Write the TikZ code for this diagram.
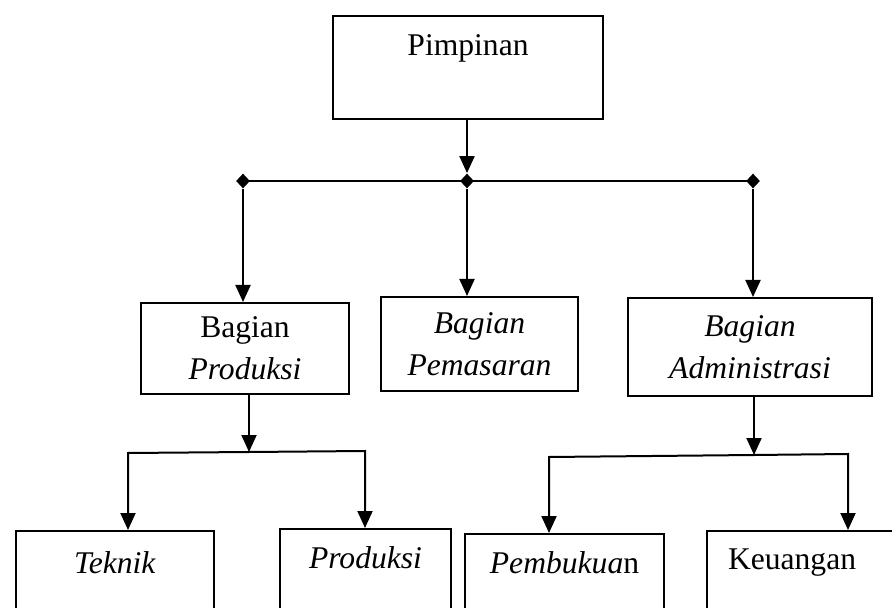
\documentclass[tikz,border=0pt]{standalone}
\usepackage{fontspec}
\setmainfont{Liberation Serif}
\usetikzlibrary{shapes.geometric, arrows.meta, positioning}
\tikzstyle{arrow} = [line width=1pt, -{Triangle[length=8.5pt, width=7.5pt]}]
\tikzstyle{unit} = [draw, rectangle, line width=1pt, inner sep=0pt, anchor=north west, align=center]
\tikzstyle{joint} = [diamond, fill=black, inner sep=0pt, minimum width=7pt, minimum height=7.5pt]

\begin{document}
\begin{tikzpicture}[x=0.5pt, y=-0.5pt, every node/.style={font=\fontsize{15.8}{21}\selectfont}]
\useasboundingbox (0,0) rectangle (892,608);
\clip (0,0) rectangle (892,608);

% Units
\node (pim) [unit, minimum width=135pt, minimum height=51.5pt, text height=20pt, text depth=31.5pt] at (332,15) {Pimpinan};

\node (prod) [unit, minimum width=104pt, minimum height=45.5pt] at (140,302) {Bagian\\\textit{Produksi}};
\node (pem) [unit, minimum width=98.5pt, minimum height=47pt] at (380,296) {\textit{Bagian}\\\textit{Pemasaran}};
\node (adm) [unit, minimum width=122pt, minimum height=49pt] at (627,297) {\textit{Bagian}\\\textit{Administrasi}};

\node (tek) [unit, minimum width=99pt, text height=21pt, text depth=24pt] at (15,530) {\textit{Teknik}};
\node (pro) [unit, minimum width=85.5pt, text height=19.5pt, text depth=26.5pt] at (279,528) {\textit{Produksi}};
\node (buk) [unit, minimum width=99.5pt, text height=19.5pt, text depth=24pt] at (464,533) {\textit{Pembukua}n};
\node (keu) [unit, align=left, inner xsep=10.5pt, text width=76pt, text height=19pt, text depth=26pt] at (706,530) {Keuangan};

% Junctions
\node (jl) [joint] at (243,181) {};
\node (jm) [joint] at (467,181) {};
\node (jr) [joint] at (753,181) {};
\coordinate (sp) at (249,452);
\coordinate (spl) at (128,453);
\coordinate (spr) at (365,451);
\coordinate (sa) at (754,455);
\coordinate (sal) at (549,457);
\coordinate (sar) at (848,454);

% Connectors
\draw [arrow] (jm |- pim.south) -- (jm.north);
\draw [line width=1pt] (jl.center) -- (jr.center);
\draw [arrow] (jl) -- (jl |- prod.north);
\draw [arrow] (jm) -- (jm |- pem.north);
\draw [arrow] (jr) -- (jr |- adm.north);

\draw [arrow] (sp |- prod.south) -- (sp);
\draw [arrow] (sp) -- (spl) -- (spl |- tek.north);
\draw [arrow] (sp) -- (spr) -- (spr |- pro.north);

\draw [arrow] (sa |- adm.south) -- (sa);
\draw [arrow] (sa) -- (sal) -- (sal |- buk.north);
\draw [arrow] (sa) -- (sar) -- (sar |- keu.north);
\end{tikzpicture}
\end{document}
